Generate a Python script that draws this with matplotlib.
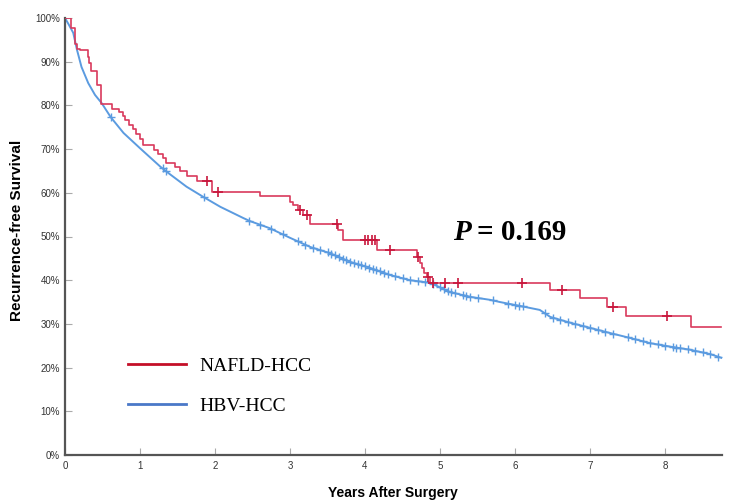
import numpy as np
import matplotlib
matplotlib.use('Agg')
import matplotlib.pyplot as plt
from matplotlib.lines import Line2D
from matplotlib import font_manager
from matplotlib.ticker import PercentFormatter

# NAFLD-HCC Kaplan-Meier steps (time in years, survival after the drop)
red_t = [0, 0.08, 0.13, 0.16, 0.2, 0.3, 0.32, 0.34, 0.42, 0.48, 0.62, 0.72, 0.77, 0.8,
         0.85, 0.9, 0.95, 1.0, 1.04, 1.18, 1.24, 1.31, 1.34, 1.47, 1.53, 1.62, 1.76, 1.96,
         2.6, 3.0, 3.04, 3.1, 3.17, 3.26, 3.64, 3.71, 4.16, 4.69, 4.73, 4.76, 4.78, 4.82,
         4.87, 6.47, 6.86, 7.22, 7.48, 8.35, 8.75]
red_s = [1.0, 0.978, 0.94, 0.93, 0.927, 0.91, 0.897, 0.879, 0.847, 0.803, 0.792, 0.786,
         0.776, 0.767, 0.756, 0.746, 0.734, 0.724, 0.709, 0.698, 0.689, 0.679, 0.668, 0.659,
         0.65, 0.639, 0.628, 0.602, 0.593, 0.579, 0.572, 0.56, 0.55, 0.529, 0.515, 0.492,
         0.469, 0.453, 0.439, 0.428, 0.416, 0.407, 0.394, 0.378, 0.359, 0.339, 0.318, 0.293,
         0.293]
red_cens = [1.89, 2.04, 3.13, 3.22, 3.63, 4.0, 4.04, 4.09, 4.13, 4.33, 4.71, 4.84, 4.9,
            5.07, 5.24, 6.09, 6.63, 7.31, 8.03]

# HBV-HCC curve (many events, looks smooth)
blue_t = [0, 0.05, 0.11, 0.16, 0.22, 0.31, 0.4, 0.49, 0.61, 0.78, 1.0, 1.27, 1.38, 1.62,
          1.84, 2.07, 2.38, 2.47, 2.73, 3.0, 3.27, 3.53, 3.8, 4.07, 4.33, 4.6, 4.87, 5.13,
          5.4, 5.67, 5.8, 6.07, 6.33, 6.47, 6.73, 7.0, 7.27, 7.53, 7.8, 8.07, 8.33, 8.6, 8.76]
blue_s = [1.0, 0.985, 0.966, 0.927, 0.888, 0.851, 0.824, 0.805, 0.773, 0.737, 0.702, 0.66,
          0.645, 0.614, 0.591, 0.568, 0.542, 0.535, 0.519, 0.497, 0.476, 0.462, 0.442, 0.428,
          0.412, 0.40, 0.394, 0.373, 0.362, 0.355, 0.35, 0.341, 0.332, 0.316, 0.303, 0.291,
          0.279, 0.268, 0.256, 0.248, 0.241, 0.231, 0.222]
blue_cens = [0.61, 1.3, 1.35, 1.85, 2.45, 2.6, 2.75, 2.9, 3.1, 3.2, 3.3, 3.4, 3.5, 3.55,
             3.6, 3.65, 3.7, 3.75, 3.8, 3.85, 3.9, 3.95, 4.0, 4.05, 4.1, 4.15, 4.2, 4.25,
             4.3, 4.4, 4.5, 4.6, 4.7, 4.8, 4.9, 5.0, 5.05, 5.1, 5.15, 5.2, 5.3, 5.35, 5.4,
             5.5, 5.7, 5.9, 6.0, 6.05, 6.1, 6.4, 6.5, 6.6, 6.7, 6.8, 6.9, 7.0, 7.1, 7.2,
             7.3, 7.5, 7.6, 7.7, 7.8, 7.9, 8.0, 8.1, 8.15, 8.2, 8.3, 8.4, 8.5, 8.6, 8.7]

names = {f.name for f in font_manager.fontManager.ttflist}
sans = 'Liberation Sans'
narrow = 'Liberation Sans Narrow' if 'Liberation Sans Narrow' in names else sans
serif = 'Liberation Serif'

W, H = 734, 503
fig = plt.figure(figsize=(W / 100, H / 100), dpi=100)
ax = fig.add_axes([65 / W, 1 - 455 / H, (722 - 65) / W, (455 - 18) / H])

red_line = '#d93a5c'
blue_line = '#5b9be0'

ax.plot(blue_t, blue_s, color=blue_line, lw=1.4, zorder=2)
bc_y = np.interp(blue_cens, blue_t, blue_s)
ax.plot(blue_cens, bc_y, ls='none', marker='+', ms=6, mew=1, color=blue_line, zorder=2)

ax.step(red_t, red_s, where='post', color=red_line, lw=1.2, zorder=3)
idx = np.searchsorted(red_t, red_cens, side='right') - 1
rc_y = np.array(red_s)[idx]
ax.plot(red_cens, rc_y, ls='none', marker='+', ms=7, mew=1.2, color='#c8163c', zorder=3)

ax.set_xlim(0, 8.76)
ax.set_ylim(0, 1)
ax.set_xticks(range(0, 9))
ax.set_yticks(np.arange(0, 1.01, 0.1))
ax.yaxis.set_major_formatter(PercentFormatter(1.0, decimals=0))
for s in ['top', 'right']:
    ax.spines[s].set_visible(False)
for s in ['left', 'bottom']:
    ax.spines[s].set_color('#555555')
    ax.spines[s].set_linewidth(1.6)
ax.tick_params(direction='in', length=5, width=0.8, color='#aaaaaa',
               labelsize=7, labelcolor='#333333')
ax.tick_params(axis='y', pad=3.5)
ax.tick_params(axis='x', pad=4.5)
for lab in ax.get_xticklabels() + ax.get_yticklabels():
    lab.set_fontfamily(sans)

fig.text(17 / W, 1 - 230 / H, 'Recurrence-free Survival', rotation=90, ha='center',
         va='center', fontsize=11, fontweight='bold', family=sans)
fig.text(393 / W, 1 - 493 / H, 'Years After Surgery', ha='center', va='center',
         fontsize=10, fontweight='bold', family=narrow)

handles = [Line2D([], [], color='#c40f28', lw=2),
           Line2D([], [], color='#4a78c8', lw=2)]
ax.legend(handles, ['NAFLD-HCC', 'HBV-HCC'], loc='upper left',
          bbox_to_anchor=(128 / W, 1 - 357 / H), bbox_transform=fig.transFigure,
          frameon=False, prop={'family': serif, 'size': 14}, handlelength=3.0,
          handletextpad=0.65, labelspacing=1.15, borderpad=0, borderaxespad=0)

fig.text(453 / W, 1 - 232 / H, 'P', ha='left', va='center', fontsize=21,
         fontweight='bold', style='italic', family=serif)
fig.text(566 / W, 1 - 232 / H, '= 0.169', ha='right', va='center', fontsize=21,
         fontweight='bold', family=serif)

fig.savefig('out.png', dpi=100)
